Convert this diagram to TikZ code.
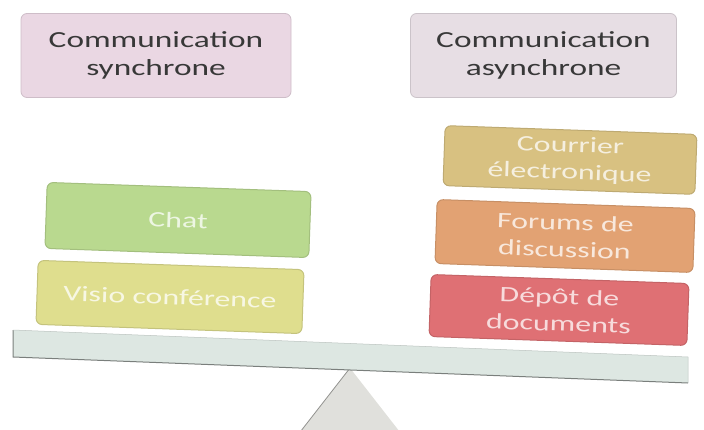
\documentclass[tikz,border=0pt]{standalone}
\usepackage{fontspec}
\setmainfont[FakeStretch=1.45]{Carlito}
\begin{document}
\begin{tikzpicture}[x=1pt,y=-1pt]
\definecolor{pinkA}{HTML}{EAD7E3}
\definecolor{pinkB}{HTML}{E7DEE4}
\definecolor{greenA}{HTML}{B9D98F}
\definecolor{yellowA}{HTML}{DFDE8E}
\definecolor{tanA}{HTML}{D8C181}
\definecolor{orangeA}{HTML}{E2A273}
\definecolor{redA}{HTML}{DF7074}
\definecolor{beamA}{HTML}{DDE7E2}
\definecolor{triA}{HTML}{E0E0DC}
\tikzset{
  cat/.style={draw=#1!88!black, fill=#1, rounded corners=6pt, line width=0.8pt,
    minimum width=270pt, minimum height=84pt, align=center,
    font=\fontsize{23}{28}\selectfont, text=black!78},
  item/.style={draw=#1!88!black, fill=#1, rounded corners=6pt, line width=1pt,
    align=center, font=\fontsize{22}{27}\selectfont, text=white!75!#1, rotate=-2},
}
\useasboundingbox (0,0) rectangle (704,430);
\path[clip] (0,0) rectangle (704,430);
% fulcrum
\fill[triA] (350,368) -- (290,445) -- (410,445) -- cycle;
\draw[triA!65!black, line width=0.8pt] (350,368) -- (290,445);
% beam
\fill[beamA] (13,330) -- (688,357) -- (688,383) -- (13,357) -- cycle;
\draw[beamA!55!black, line width=1pt] (13,330) -- (13,357) -- (688,383);
\draw[beamA!85!black, line width=0.5pt] (13,330) -- (688,357) -- (688,383);
% headers
\node[cat=pinkA] (sync) at (156,55.5) {Communication\\synchrone};
\node[cat=pinkB, minimum width=266pt] (async) at (543.5,55.5) {Communication\\asynchrone};
% left items
\node[item=greenA, minimum width=264pt, minimum height=66pt] (chat) at (178,220) {Chat};
\node[item=yellowA, minimum width=266pt, minimum height=64pt] (visio) at (170,297) {Visio conférence};
% right items
\node[item=tanA, minimum width=252pt, minimum height=60pt] (mail) at (570,160) {Courrier\\électronique};
\node[item=orangeA, minimum width=258pt, minimum height=64pt] (forum) at (565,236) {Forums de\\discussion};
\node[item=redA, minimum width=258pt, minimum height=62pt] (depot) at (559,310) {Dépôt de\\documents};
\end{tikzpicture}
\end{document}
